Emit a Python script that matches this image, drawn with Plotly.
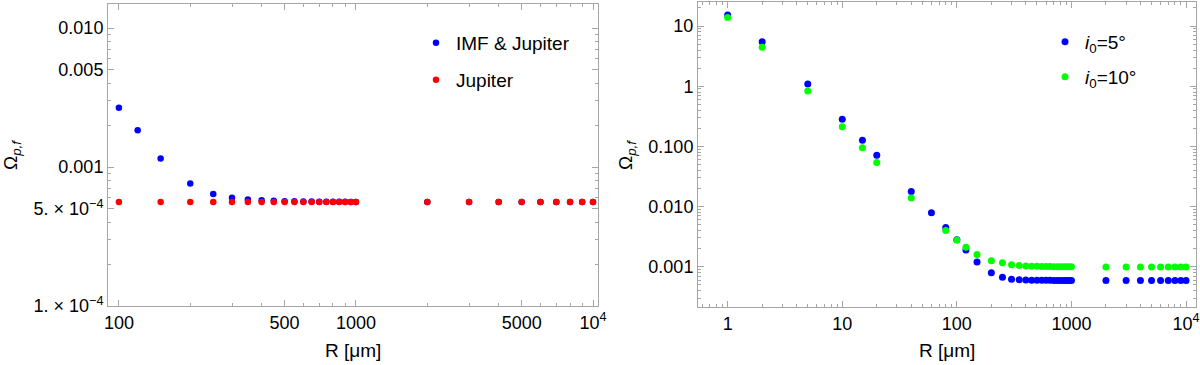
import plotly.graph_objects as go

# left panel data
r_imf = [100, 120, 150, 200, 250, 300, 350, 400, 450, 500, 550, 600, 650, 700, 750,
         800, 850, 900, 950, 1000, 2000, 3000, 4000, 5000, 6000, 7000, 8000, 9000, 10000]
omega_imf = [2.67e-3, 1.84e-3, 1.15e-3, 7.6e-4, 6.4e-4, 6.0e-4, 5.83e-4, 5.76e-4, 5.71e-4,
             5.68e-4, 5.66e-4, 5.65e-4, 5.64e-4, 5.63e-4, 5.63e-4, 5.62e-4, 5.62e-4, 5.62e-4,
             5.61e-4, 5.61e-4, 5.6e-4, 5.6e-4, 5.6e-4, 5.6e-4, 5.6e-4, 5.6e-4, 5.6e-4, 5.6e-4, 5.6e-4]
r_jup = [100, 150, 200, 250, 300, 350, 400, 450, 500, 550, 600, 650, 700, 750,
         800, 850, 900, 950, 1000, 2000, 3000, 4000, 5000, 6000, 7000, 8000, 9000, 10000]
omega_jup = [5.6e-4] * 28

# right panel data
r_i5 = [1, 2, 5, 10, 15, 20, 40, 60, 80, 100, 120, 150, 200, 250, 300, 350, 400, 450, 500,
        550, 600, 650, 700, 750, 800, 850, 900, 950, 1000,
        2000, 3000, 4000, 5000, 6000, 7000, 8000, 9000, 10000]
omega_i5 = [15.2, 5.5, 1.09, 0.282, 0.126, 0.071, 0.0177, 0.0079, 0.0045, 0.0028, 0.0019,
            0.0012, 7.9e-4, 6.65e-4, 6.2e-4, 6.05e-4, 6.0e-4, 5.97e-4, 5.95e-4, 5.94e-4,
            5.93e-4, 5.93e-4, 5.92e-4, 5.92e-4, 5.92e-4, 5.91e-4, 5.91e-4, 5.91e-4, 5.91e-4,
            5.88e-4, 5.88e-4, 5.88e-4, 5.88e-4, 5.88e-4, 5.88e-4, 5.88e-4, 5.88e-4, 5.88e-4]
r_i10 = [1, 2, 5, 10, 15, 20, 40, 80, 100, 120, 150, 200, 250, 300, 350, 400, 450, 500,
         550, 600, 650, 700, 750, 800, 850, 900, 950, 1000,
         2000, 3000, 4000, 5000, 6000, 7000, 8000, 9000, 10000]
omega_i10 = [13.9, 4.43, 0.83, 0.212, 0.095, 0.054, 0.0139, 0.0040, 0.00277, 0.0021, 0.0016,
             0.00126, 0.00116, 0.00108, 0.00105, 0.00103, 0.00102, 1.015e-3, 1.01e-3, 1.005e-3,
             1.003e-3, 1.0e-3, 1.0e-3, 1.0e-3, 0.998e-3, 0.997e-3, 0.996e-3, 0.995e-3,
             9.9e-4, 9.9e-4, 9.9e-4, 9.9e-4, 9.9e-4, 9.9e-4, 9.9e-4, 9.9e-4, 9.9e-4]

W, H = 1200, 365
FONT = "Liberation Sans, Arial, sans-serif"
FRAME = "#a6a6a6"


def minor_vals(e0, e1):
    return [d * 10 ** e for e in range(e0, e1) for d in range(2, 10)]


def px_x(p):
    return p / W


def px_y(p):
    return 1 - p / H


fig = go.Figure()
fig.add_trace(go.Scatter(x=r_imf, y=omega_imf, mode="markers", name="IMF & Jupiter",
                         marker=dict(color="#0000ff", size=6.5), xaxis="x", yaxis="y", legend="legend"))
fig.add_trace(go.Scatter(x=r_jup, y=omega_jup, mode="markers", name="Jupiter",
                         marker=dict(color="#ff0000", size=6.5), xaxis="x", yaxis="y", legend="legend2"))
fig.add_trace(go.Scatter(x=r_i5, y=omega_i5, mode="markers", name="<i>i</i><sub>0</sub>=5°",
                         marker=dict(color="#0000ff", size=7), xaxis="x2", yaxis="y2", legend="legend3"))
fig.add_trace(go.Scatter(x=r_i10, y=omega_i10, mode="markers", name="<i>i</i><sub>0</sub>=10°",
                         marker=dict(color="#00ff00", size=7), xaxis="x2", yaxis="y2", legend="legend4"))

axis_common = dict(type="log", showline=True, linecolor=FRAME, linewidth=1, mirror="allticks",
                   ticks="inside", ticklen=6, tickcolor=FRAME, showgrid=False, zeroline=False,
                   automargin=False,
                   tickfont=dict(family=FONT, size=18, color="black"), tickmode="array")

fig.update_layout(
    width=W, height=H, margin=dict(l=0, r=0, t=0, b=0),
    plot_bgcolor="white", paper_bgcolor="white", showlegend=True,
    font=dict(family=FONT, color="black"),
    xaxis=dict(axis_common, domain=[px_x(108), px_x(598)], range=[1.954, 4.021], anchor="y",
               tickvals=[100, 500, 1000, 5000, 10000],
               ticktext=["100", "500", "1000", "5000", "10<sup>4</sup>"],
               minor=dict(ticks="inside", ticklen=3, tickcolor=FRAME, tickvals=minor_vals(1, 4))),
    yaxis=dict(axis_common, domain=[px_y(306), px_y(4)], range=[-4, -1.827], anchor="x",
               tickvals=[1e-4, 5e-4, 1e-3, 5e-3, 1e-2],
               ticktext=["1. × 10<sup>−4</sup>", "5. × 10<sup>−4</sup>", "0.001", "0.005", "0.010"],
               minor=dict(ticks="inside", ticklen=3, tickcolor=FRAME, tickvals=minor_vals(-4, -1))),
    xaxis2=dict(axis_common, domain=[px_x(698), px_x(1196)], range=[-0.259, 4.087], anchor="y2",
                tickvals=[1, 10, 100, 1000, 10000],
                ticktext=["1", "10", "100", "1000", "10<sup>4</sup>"],
                minor=dict(ticks="inside", ticklen=3, tickcolor=FRAME, tickvals=minor_vals(-1, 5))),
    yaxis2=dict(axis_common, domain=[px_y(307), px_y(2)], range=[-3.67, 1.40], anchor="x2",
                tickvals=[1e-3, 1e-2, 1e-1, 1, 10],
                ticktext=["0.001", "0.010", "0.100", "1", "10"],
                minor=dict(ticks="inside", ticklen=3, tickcolor=FRAME, tickvals=minor_vals(-4, 2))),
)

leg = dict(xanchor="left", yanchor="middle", bgcolor="rgba(0,0,0,0)",
           font=dict(family=FONT, size=19, color="black"), itemwidth=30)
fig.update_layout(
    legend=dict(leg, x=px_x(416), y=px_y(43)),
    legend2=dict(leg, x=px_x(416), y=px_y(80)),
    legend3=dict(leg, x=px_x(1045), y=px_y(42)),
    legend4=dict(leg, x=px_x(1045), y=px_y(77)),
)

title_font = dict(family=FONT, size=19, color="black")
annots = [
    dict(text="Ω<sub><i>p,f</i></sub>", x=px_x(12), y=px_y(155), textangle=-90),
    dict(text="Ω<sub><i>p,f</i></sub>", x=px_x(627), y=px_y(155), textangle=-90),
    dict(text="R [μm]", x=px_x(353), y=px_y(350)),
    dict(text="R [μm]", x=px_x(947), y=px_y(350)),
]
for a in annots:
    fig.add_annotation(xref="paper", yref="paper", showarrow=False, font=title_font,
                       xanchor="center", yanchor="middle", **a)

# drop the browser's default 8px body margin so the figure sits at the page corner
fig.write_html("out.html", config={"displayModeBar": False},
               post_script="document.body.style.margin = '0';")
